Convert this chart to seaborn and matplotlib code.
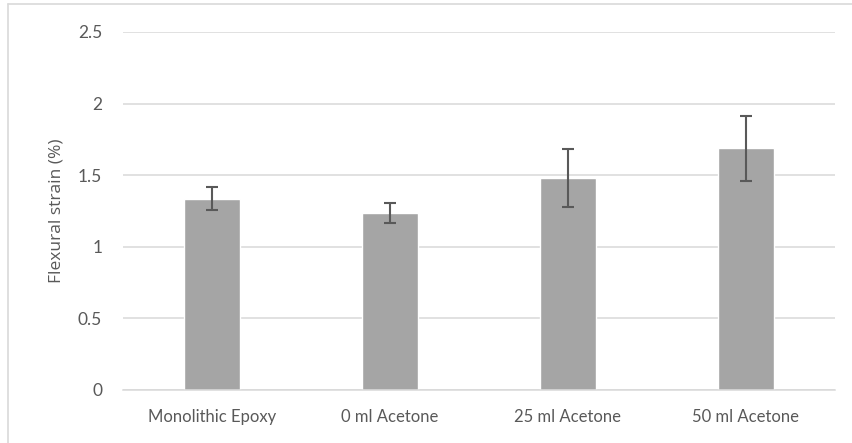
import numpy as np
import pandas as pd
import seaborn as sns
import matplotlib.pyplot as plt
from matplotlib.lines import Line2D

# values
categories = ['Monolithic Epoxy', '0 ml Acetone', '25 ml Acetone', '50 ml Acetone']
strain = [1.335, 1.235, 1.48, 1.688]
strain_err = [0.08, 0.07, 0.20, 0.228]
yticks = [0, 0.5, 1, 1.5, 2, 2.5]

df = pd.DataFrame({'sample': categories, 'strain': strain})

sns.set_style('white')
plt.rcParams['font.family'] = ['Lato', 'DejaVu Sans']

fig = plt.figure(figsize=(8.53, 4.43), dpi=100)
ax = fig.add_axes([123 / 853, 53 / 443, 712 / 853, 358 / 443])

sns.barplot(data=df, x='sample', y='strain', color='#A5A5A5', saturation=1,
            width=0.31, errorbar=None, ax=ax, zorder=2)

# error bars at the bar centres
centers = [p.get_x() + p.get_width() / 2 for p in ax.patches]
ax.errorbar(centers, strain, yerr=strain_err, fmt='none', ecolor='#595959',
            elinewidth=1.5, capsize=4.5, capthick=1.5, zorder=3)

ax.set_xlim(-0.5, 3.5)
ax.set_ylim(0, 2.5)
ax.set_yticks(yticks)
ax.set_yticklabels(['0', '0.5', '1', '1.5', '2', '2.5'])
ax.grid(axis='y', color='#D9D9D9', linewidth=1.1, zorder=0)
ax.set_axisbelow(True)
for s in ['top', 'right', 'left']:
    ax.spines[s].set_visible(False)
ax.spines['bottom'].set_color('#D9D9D9')
ax.spines['bottom'].set_linewidth(1.1)

ax.tick_params(axis='x', length=0, pad=14, labelsize=12, labelcolor='#595959')
ax.tick_params(axis='y', length=0, pad=15, labelsize=12.5, labelcolor='#595959')
ax.set_xlabel('')
ax.set_ylabel('Flexural strain (%)', fontsize=12.5, color='#595959',
              family=['Open Sans', 'DejaVu Sans'], labelpad=10)

# chart area border (left and top only visible)
fig.add_artist(Line2D([8 / 853, 8 / 853], [0, 1 - 4 / 443], color='#D9D9D9', lw=1.2))
fig.add_artist(Line2D([8 / 853, 1], [1 - 4 / 443, 1 - 4 / 443], color='#D9D9D9', lw=1.2))

fig.savefig('out.png', dpi=100)
